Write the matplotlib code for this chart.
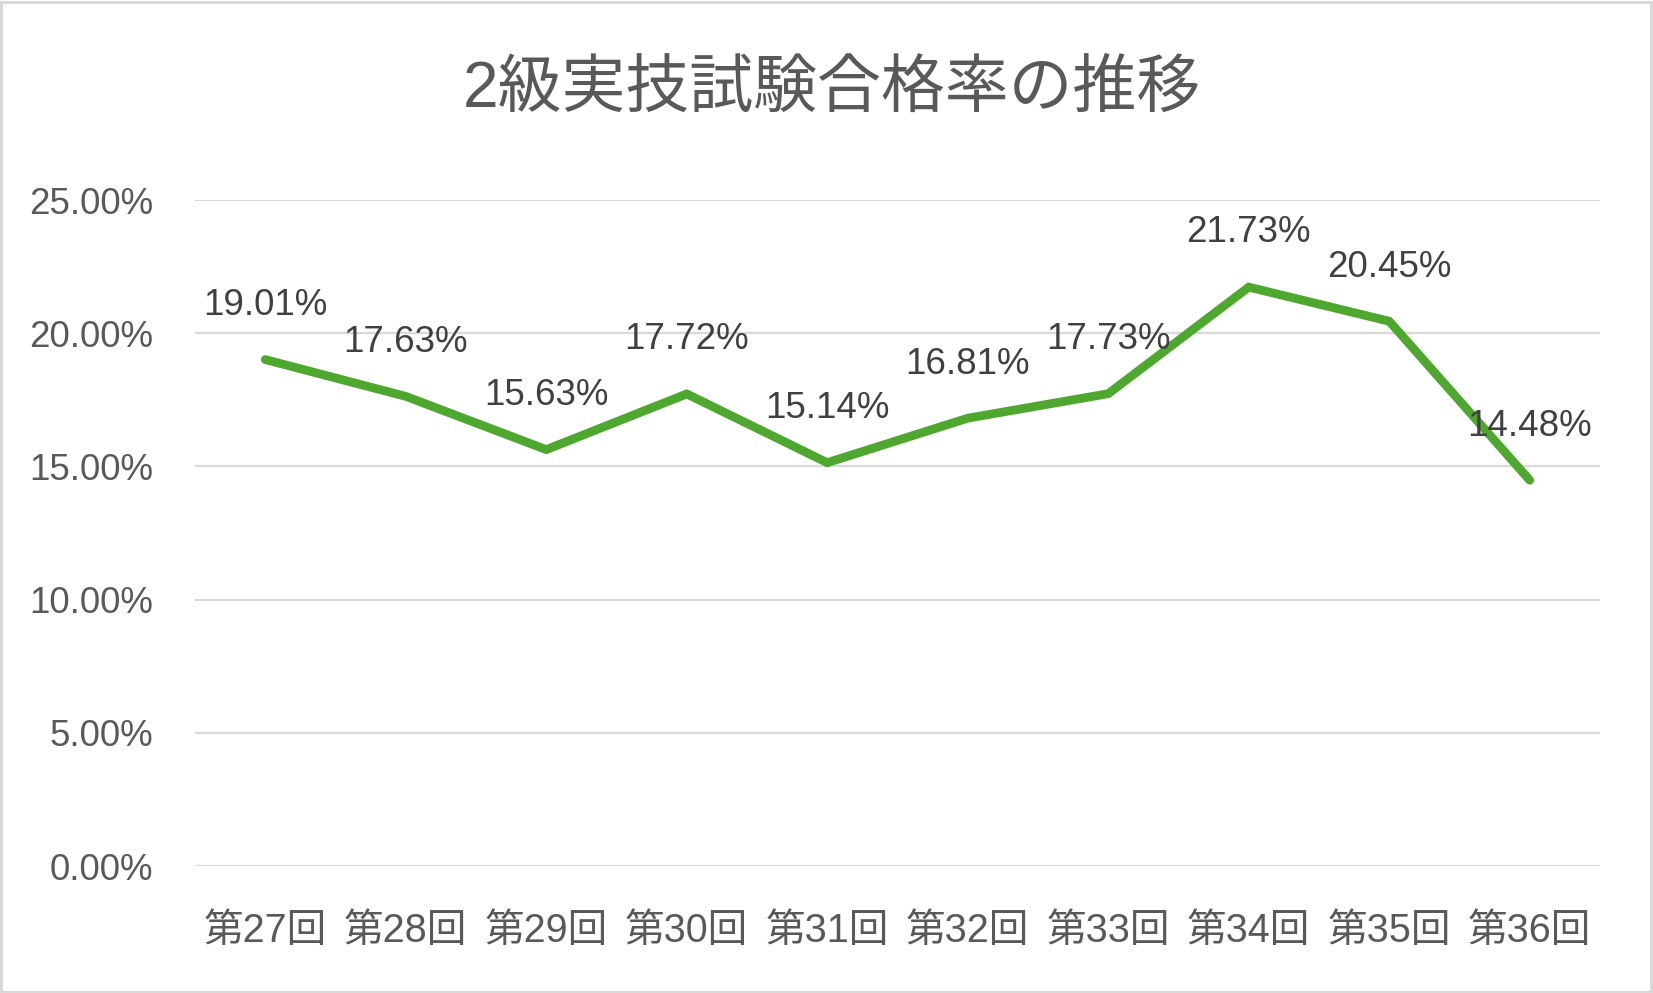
import matplotlib
matplotlib.use("Agg")
import matplotlib.pyplot as plt
from matplotlib.ticker import FuncFormatter, MultipleLocator
from matplotlib.patches import Rectangle

categories = ["第27回", "第28回", "第29回", "第30回", "第31回",
              "第32回", "第33回", "第34回", "第35回", "第36回"]
rates = [19.01, 17.63, 15.63, 17.72, 15.14, 16.81, 17.73, 21.73, 20.45, 14.48]
title = "2級実技試験合格率の推移"

FAM = ["Liberation Sans", "Noto Sans CJK JP", "DejaVu Sans"]
plt.rcParams["font.family"] = FAM

W, H = 1653, 993
fig = plt.figure(figsize=(W / 100, H / 100), dpi=100)
ax = fig.add_axes([195 / W, 127 / H, (1600 - 195) / W, (866 - 200) / H])

x = list(range(len(categories)))
ax.plot(x, rates, color="#4EA72E", lw=6.3, solid_capstyle="round",
        solid_joinstyle="miter", zorder=3)

for xi, v in zip(x, rates):
    ax.annotate(f"{v:.2f}%", (xi, v), xytext=(0, 39), textcoords="offset points",
                ha="center", va="center", fontsize=26.5, color="#404040", zorder=4)

ax.set_xlim(-0.5, len(categories) - 0.5)
ax.set_ylim(0, 25)
ax.yaxis.set_major_locator(MultipleLocator(5))
ax.yaxis.set_major_formatter(FuncFormatter(lambda v, p: f"{v:.2f}%"))
ax.set_xticks(x)
ax.set_xticklabels(categories)

ax.grid(axis="y", color="#D9D9D9", lw=1.6)
ax.set_axisbelow(True)
for s in ax.spines.values():
    s.set_visible(False)
ax.tick_params(axis="both", length=0)
ax.tick_params(axis="y", labelsize=26.5, labelcolor="#595959", pad=30)
ax.tick_params(axis="x", labelsize=28.5, labelcolor="#595959", pad=33)

fig.text(832 / W, 1 - 90 / H, title, ha="center", va="center",
         fontsize=46, color="#595959")

fig.patches.append(Rectangle((1 / W, 1 / H), 1 - 3 / W, 1 - 3 / H,
                             transform=fig.transFigure, fill=False,
                             edgecolor="#D9D9D9", lw=2.2))

fig.savefig("out.png", dpi=100, facecolor="white")
